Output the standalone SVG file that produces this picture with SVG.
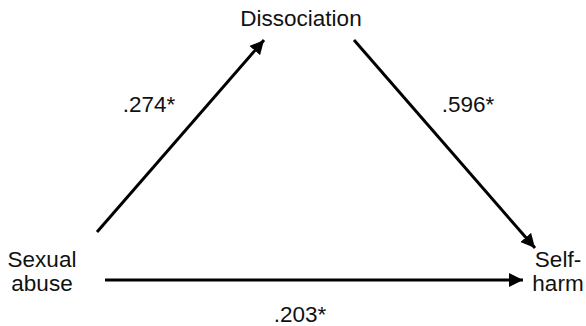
<svg xmlns="http://www.w3.org/2000/svg" width="586" height="326" viewBox="0 0 586 326">
<style>
text{font-family:"Liberation Sans",Arial,sans-serif;font-size:22.5px;fill:#111}
.c{stroke:#000;stroke-width:3;fill:none}
</style>
<defs>
<marker id="ah" markerUnits="userSpaceOnUse" markerWidth="16" markerHeight="14" refX="14" refY="7" orient="auto">
<path d="M0,0 L14,7 L0,14 z" fill="#000"/>
</marker>
</defs>
<rect width="586" height="326" fill="#fff"/>
<g id="dissociation"><text x="301" y="26" text-anchor="middle">Dissociation</text></g>
<g id="sexual-abuse"><text x="42" y="267" text-anchor="middle">Sexual</text><text x="42" y="291" text-anchor="middle">abuse</text></g>
<g id="self-harm"><text x="558" y="267" text-anchor="middle">Self-</text><text x="558" y="291" text-anchor="middle">harm</text></g>
<g id="connectors">
<line class="c" x1="97" y1="232" x2="264" y2="40" marker-end="url(#ah)"/>
<line class="c" x1="354" y1="40" x2="535" y2="248" marker-end="url(#ah)"/>
<line class="c" x1="105" y1="280" x2="523" y2="280" marker-end="url(#ah)"/>
<text x="149" y="112" text-anchor="middle">.274*</text>
<text x="468" y="112" text-anchor="middle">.596*</text>
<text x="300" y="322" text-anchor="middle">.203*</text>
</g>
</svg>
